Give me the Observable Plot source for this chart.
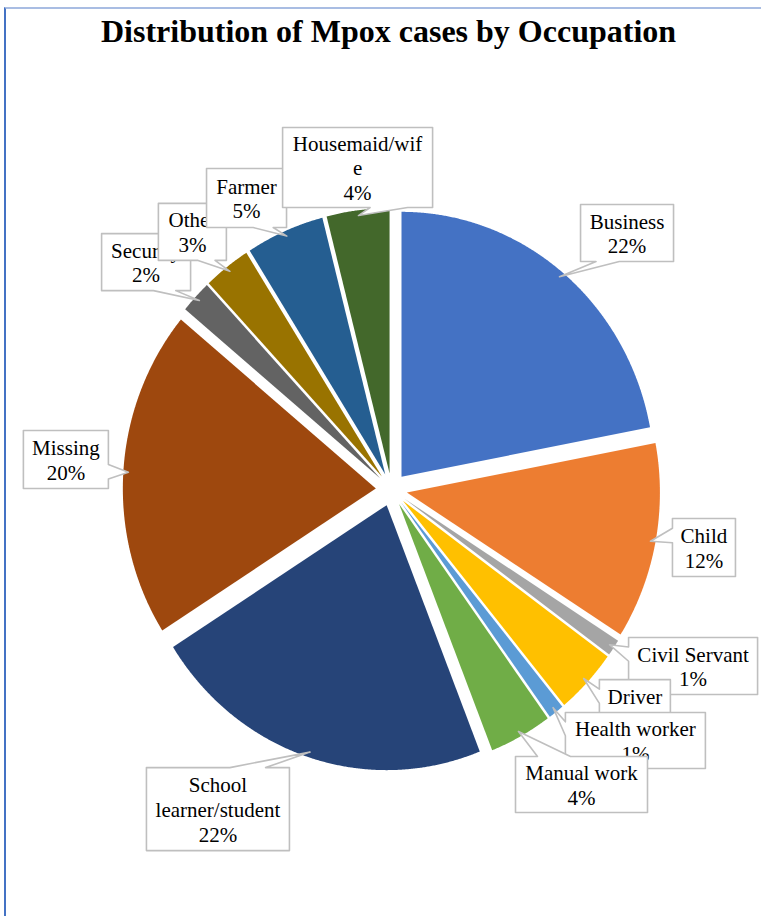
<!DOCTYPE html>
<html><head><meta charset="utf-8">
<script src="https://cdn.jsdelivr.net/npm/d3@7"></script>
<script src="https://cdn.jsdelivr.net/npm/@observablehq/plot@0.6"></script>
<style>
html,body{margin:0;padding:0;background:#fff;}
#wrap{position:relative;width:761px;height:916px;overflow:hidden;background:#fff;}
#frame{position:absolute;left:4px;top:7px;width:900px;height:1000px;border-left:2px solid #4472C4;border-top:2px solid #A9BDE3;box-sizing:border-box;pointer-events:none;}
#title{position:absolute;left:8px;top:15px;width:761px;text-align:center;font:bold 32px "Liberation Serif","Times New Roman",serif;line-height:32px;color:#000;white-space:nowrap;}
#chart{position:absolute;left:0;top:60px;}
</style></head><body>
<div id="wrap"><div id="chart"></div><div id="title">Distribution of Mpox cases by Occupation</div><div id="frame"></div></div>
<script>
// ---- data ----
const categories = ["Business","Child","Civil Servant","Driver","Health worker","Manual work","School learner/student","Missing","Security","Other","Farmer","Housemaid/wife"];
const percents = [22,12,1,4,1,4,22,20,2,3,5,4];
const sliceColors = ["#4472C4","#ED7D31","#A5A5A5","#FFC000","#5B9BD5","#70AD47","#264478","#9E480E","#636363","#997300","#255E91","#43682B"];
// label text as wrapped in the chart
const labelText = ["Business","Child","Civil Servant","Driver","Health worker","Manual work","School\nlearner/student","Missing","Security","Other","Farmer","Housemaid/wif\ne"];

// ---- layout ----
const W = 761, H = 856;
const rx = 253, ry = 265;       // px per pie radius (horizontal / vertical)
const pcx = 391, pcy = 429;     // pie centre inside the svg
const explode = 0.062;          // slice explosion, in radii
const tipR = 0.98;              // where callout pointers touch the slices
// callout box centres (in pie radii, relative to the pie centre) and sizes (px)
const labelCenter = [[0.931,0.968],[1.235,-0.219],[1.192,-0.666],[0.962,-0.825],[0.964,-0.947],[0.751,-1.113],[-0.686,-1.206],[-1.287,0.113],[-0.970,0.858],[-0.787,0.972],[-0.573,1.100],[-0.134,1.215]];
const labelSize = [[93,57],[63,58],[129,57],[71,57],[140,56],[132,56],[143,83],[85,58],[89,57],[68,57],[80,59],[150,80]];

const rows = categories.map((name,i)=>({name, pct: percents[i], color: sliceColors[i], label: labelText[i] + "\n" + percents[i] + "%"}));
const arcs = d3.pie().sort(null).value(d=>d.pct).startAngle(0).endAngle(2*Math.PI)(rows);

// slice polygons
const slicePts = [];
arcs.forEach(a=>{
  const mid = (a.startAngle + a.endAngle)/2;
  const ox = explode*Math.sin(mid), oy = explode*Math.cos(mid);
  a.ox = ox; a.oy = oy; a.mid = mid;
  slicePts.push({name:a.data.name, color:a.data.color, x:ox, y:oy});
  const n = Math.max(2, Math.ceil((a.endAngle - a.startAngle)/(Math.PI/720)));
  for (let k=0;k<=n;k++){
    const t = a.startAngle + (a.endAngle - a.startAngle)*k/n;
    slicePts.push({name:a.data.name, color:a.data.color, x:ox+Math.sin(t), y:oy+Math.cos(t)});
  }
});

// callout outline (OOXML wedgeRectCallout logic), computed in px then mapped to radii
function callout(i, a){
  const [ux,uy] = labelCenter[i], [w,h] = labelSize[i];
  const tx = a.ox + tipR*Math.sin(a.mid), ty = a.oy + tipR*Math.cos(a.mid);
  // px space relative to box centre, y down
  const dx = (tx-ux)*rx, dy = (uy-ty)*ry;
  const l = -w/2, r = w/2, t = -h/2, b = h/2;
  const dq = dx*h/w;
  const dz = Math.abs(dy) - Math.abs(dq);
  const xg1 = dx>0?7:2, xg2 = dx>0?10:5, yg1 = dy>0?7:2, yg2 = dy>0?10:5;
  const x1 = l + w*xg1/12, x2 = l + w*xg2/12, y1 = t + h*yg1/12, y2 = t + h*yg2/12;
  let side;
  if (dz > 0) side = dy>0 ? "bottom" : "top"; else side = dx>0 ? "right" : "left";
  const tip = [dx,dy];
  const p = [[l,t]];
  if (side==="top") p.push([x1,t],tip,[x2,t]);
  p.push([r,t]);
  if (side==="right") p.push([r,y1],tip,[r,y2]);
  p.push([r,b]);
  if (side==="bottom") p.push([x2,b],tip,[x1,b]);
  p.push([l,b]);
  if (side==="left") p.push([l,y2],tip,[l,y1]);
  return p.map(([px,py])=>({x: ux + px/rx, y: uy - py/ry}));
}

const font = "'Liberation Serif','Times New Roman',serif";
const labelMarks = [];
arcs.forEach((a,i)=>{
  labelMarks.push(Plot.line(callout(i,a), {x:"x", y:"y", curve:"linear-closed", fill:"white", stroke:"#BFBFBF", strokeWidth:1.6}));
  labelMarks.push(Plot.text([{x:labelCenter[i][0], y:labelCenter[i][1], t:a.data.label}], {x:"x", y:"y", text:"t", fontSize:21, fontFamily:font, lineHeight:1.17, textAnchor:"middle", lineAnchor:"middle", fill:"#000"}));
});

const chart = Plot.plot({
  width: W, height: H, margin: 0,
  x: {domain:[-pcx/rx, (W-pcx)/rx], axis:null},
  y: {domain:[-(H-pcy)/ry, pcy/ry], axis:null},
  color: {type:"identity"},
  marks: [
    Plot.line(slicePts, {x:"x", y:"y", z:"name", fill:"color", stroke:null, curve:"linear-closed"}),
    ...labelMarks
  ]
});
document.getElementById("chart").appendChild(chart);
</script>
</body></html>
